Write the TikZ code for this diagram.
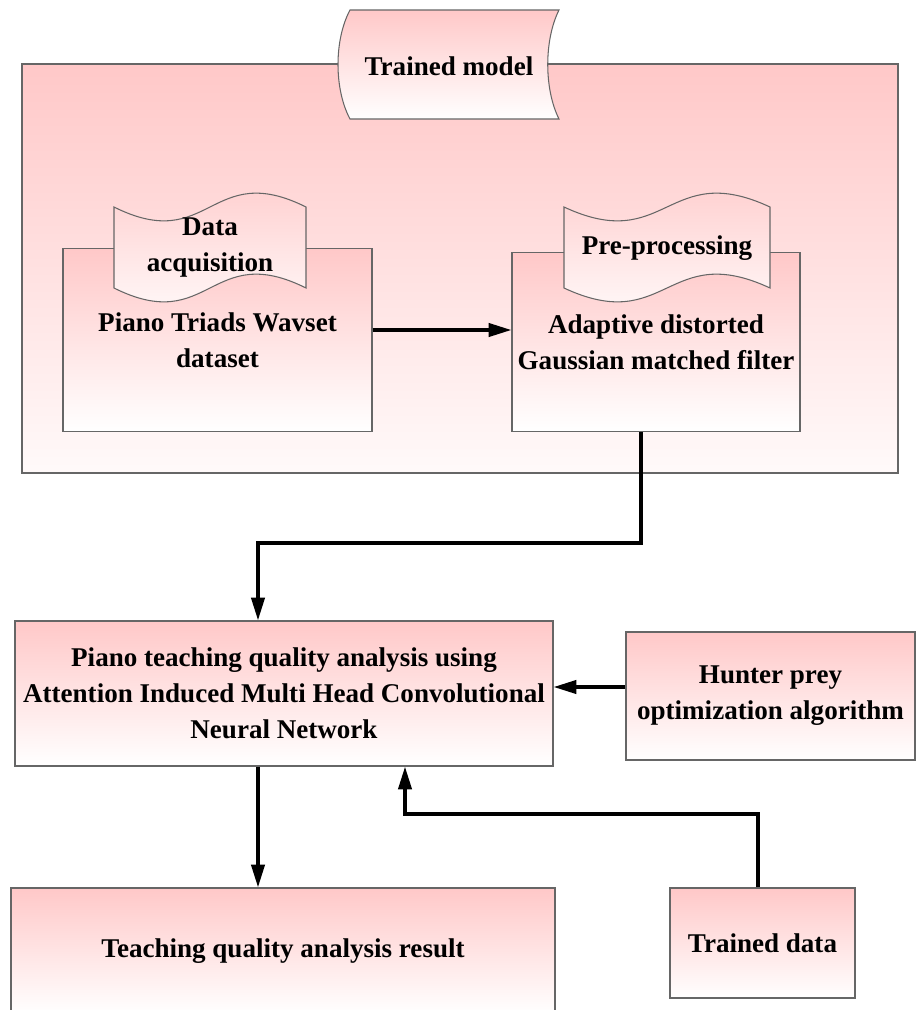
\documentclass[tikz,border=0pt]{standalone}
\usepackage{fontspec}
\setmainfont{Liberation Serif}
\usepackage{tikz}
\usetikzlibrary{arrows.meta}
\definecolor{rose}{RGB}{255,200,200}

\tikzset{
    txt/.style={font=\bfseries\fontsize{15.4}{20.5}\selectfont, align=center},
    box/.style={txt, draw=black!60, line width=0.6pt, top color=rose, bottom color=white, inner sep=0pt},
    flow/.style={line width=2pt, -{Triangle[length=13pt,width=7.5pt]}}
}

\begin{document}
\begin{tikzpicture}
        \useasboundingbox (0,0) rectangle (18.34,-20.2);

        % trained model panel
        \draw[draw=black!60, line width=0.6pt, top color=rose, bottom color=white!90!rose] (0.44,-1.28) rectangle (17.96,-9.46);
        \draw[draw=black!60, line width=0.6pt, top color=rose, bottom color=white] (7.0,-0.2) -- (11.18,-0.2) .. controls (10.88,-0.8) and (10.88,-1.78) .. (11.18,-2.38) -- (7.0,-2.38) .. controls (6.68,-1.78) and (6.68,-0.8) .. cycle;
        \node[txt] (model) at (8.98,-1.33) {Trained model};

        \node[box, minimum width=6.18cm, minimum height=3.66cm] (dataset) at (4.35,-6.8) {Piano Triads Wavset\\dataset};
        \node[box, minimum width=5.76cm, minimum height=3.58cm] (filter) at (13.12,-6.84) {Adaptive distorted\\Gaussian matched filter};

        % tapes
        \draw[draw=black!60, line width=0.6pt, top color=rose, bottom color=white] (2.28,-4.14) .. controls (4.2,-5.1) and (4.2,-3.18) .. (6.12,-4.14) -- (6.12,-5.76) .. controls (4.2,-4.8) and (4.2,-6.72) .. (2.28,-5.76) -- cycle;
        \node[txt] (acq) at (4.2,-4.95) {Data\\acquisition};
        \draw[draw=black!60, line width=0.6pt, top color=rose, bottom color=white] (11.28,-4.14) .. controls (13.34,-5.1) and (13.34,-3.18) .. (15.4,-4.14) -- (15.4,-5.76) .. controls (13.34,-4.8) and (13.34,-6.72) .. (11.28,-5.76) -- cycle;
        \node[txt] (prep) at (13.34,-4.96) {Pre-processing};

        % lower blocks
        \node[box, minimum width=10.76cm, minimum height=2.9cm] (analysis) at (5.68,-13.87) {Piano teaching quality analysis using\\Attention Induced Multi Head Convolutional\\Neural Network};
        \node[box, minimum width=5.78cm, minimum height=2.56cm] (hunter) at (15.41,-13.92) {Hunter prey\\optimization algorithm};
        \node[box, minimum width=10.88cm, minimum height=2.52cm] (result) at (5.66,-19.02) {Teaching quality analysis result};
        \node[box, minimum width=3.7cm, minimum height=2.2cm] (trained) at (15.25,-18.86) {Trained data};

        \coordinate (drop) at (5.16,-10.86);
        \coordinate (rise) at (8.1,-16.28);

        \draw[flow] ([yshift=0.2cm]dataset.east) -- ([yshift=0.2cm]dataset.east -| filter.west);
        \draw[flow] ([xshift=-0.3cm]filter.south) |- (drop) -- (drop |- analysis.north);
        \draw[flow] ([yshift=0.18cm]hunter.west) -- ([yshift=0.18cm]hunter.west -| analysis.east);
        \draw[flow] (analysis.south -| drop) -- (result.north -| drop);
        \draw[flow] ([xshift=-0.09cm]trained.north) |- (rise) -- (rise |- analysis.south);
\end{tikzpicture}
\end{document}
